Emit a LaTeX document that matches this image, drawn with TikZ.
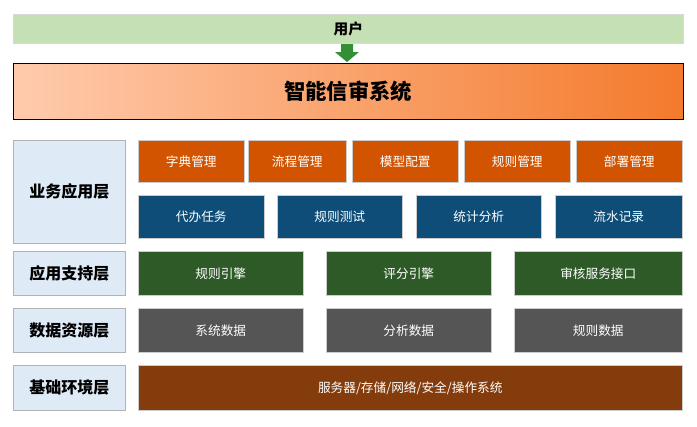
\documentclass[tikz,border=0pt]{standalone}
\usepackage{fontspec}
\newfontfamily\cjk{Noto Sans CJK SC}
\tikzset{
  layer/.style={draw=gray!60,fill=blue!8!cyan!5,font=\cjk\bfseries\fontsize{12}{14}\selectfont,anchor=north west,inner sep=0pt},
  mod/.style={draw=gray!40,text=white,font=\cjk\fontsize{9.5}{11}\selectfont,anchor=north west,inner sep=0pt}
}
\newcommand{\boxat}[7]{% name, style, colour, x1, y1, x2, y2
  \node[#2,fill=#3,minimum width={(#6-#4)*0.75pt},minimum height={(#7-#5)*0.75pt}] (#1) at (#4,#5)}
\begin{document}
\begin{tikzpicture}[x=0.75pt,y=-0.75pt]
  \useasboundingbox (0,0) rectangle (697,426);
  \definecolor{usergreen}{HTML}{C5E0B4}
  \definecolor{sysl}{HTML}{FFCBAD}
  \definecolor{sysr}{HTML}{F47A2C}
  \definecolor{layerbg}{HTML}{DEEBF7}
  \definecolor{apporange}{HTML}{D35400}
  \definecolor{appblue}{HTML}{0E4D78}
  \definecolor{supgreen}{HTML}{2E5A28}
  \definecolor{datagray}{HTML}{555555}
  \definecolor{basebrown}{HTML}{843C0C}
  % user and system
  \boxat{user}{layer}{usergreen}{13}{14}{683}{43}[draw=gray!30,font=\cjk\bfseries\fontsize{11}{13}\selectfont] {用户};
  \node[draw=black,left color=sysl,right color=sysr,anchor=north west,inner sep=0pt,
    minimum width={670*0.75pt},minimum height={56*0.75pt},
    font=\cjk\bfseries\fontsize{16}{18}\selectfont] (sys) at (13,63) {智能信审系统};
  \draw[draw=none,fill=green!45!black!80] (341,44) rectangle (353,52)
    (335,52) -- (359,52) -- (347,62) -- cycle;
  % layers
  \boxat{biz}{layer}{layerbg}{13}{140}{125}{243} {业务应用层};
  \boxat{sup}{layer}{layerbg}{13}{251}{125}{295} {应用支持层};
  \boxat{dat}{layer}{layerbg}{13}{308}{125}{352} {数据资源层};
  \boxat{bas}{layer}{layerbg}{13}{365}{125}{410} {基础环境层};
  % business
  \boxat{b1}{mod}{apporange}{138}{140}{244}{182} {字典管理};
  \boxat{b2}{mod}{apporange}{248}{140}{346}{182} {流程管理};
  \boxat{b3}{mod}{apporange}{352}{140}{458}{182} {模型配置};
  \boxat{b4}{mod}{apporange}{464}{140}{570}{182} {规则管理};
  \boxat{b5}{mod}{apporange}{576}{140}{682}{182} {部署管理};
  \boxat{c1}{mod}{appblue}{138}{195}{264}{238} {代办任务};
  \boxat{c2}{mod}{appblue}{277}{195}{402}{238} {规则测试};
  \boxat{c3}{mod}{appblue}{416}{195}{541}{238} {统计分析};
  \boxat{c4}{mod}{appblue}{555}{195}{682}{238} {流水记录};
  % support
  \boxat{s1}{mod}{supgreen}{138}{251}{303}{295} {规则引擎};
  \boxat{s2}{mod}{supgreen}{326}{251}{491}{295} {评分引擎};
  \boxat{s3}{mod}{supgreen}{514}{251}{682}{295} {审核服务接口};
  % data
  \boxat{d1}{mod}{datagray}{138}{308}{303}{352} {系统数据};
  \boxat{d2}{mod}{datagray}{326}{308}{491}{352} {分析数据};
  \boxat{d3}{mod}{datagray}{514}{308}{682}{352} {规则数据};
  % base
  \boxat{e1}{mod}{basebrown}{138}{365}{682}{410} {服务器/存储/网络/安全/操作系统};
\end{tikzpicture}
\end{document}
